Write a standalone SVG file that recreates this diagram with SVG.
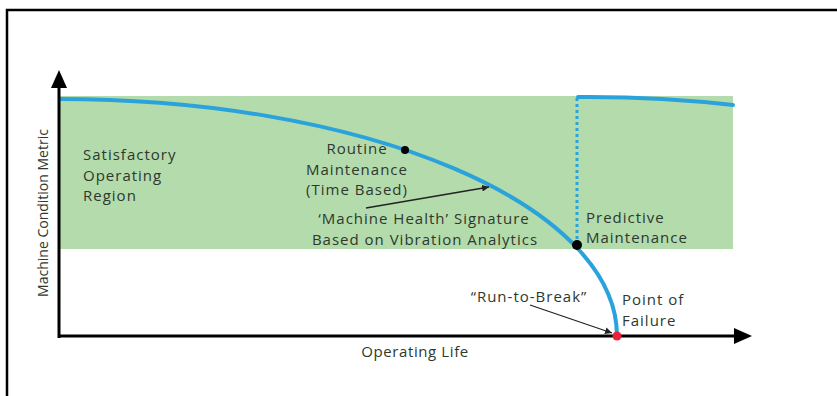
<svg xmlns="http://www.w3.org/2000/svg" width="837" height="396" viewBox="0 0 837 396">
<defs>
<style>
.t{font-family:"Open Sans","Liberation Sans",sans-serif;font-size:15px;fill:#2e382e;letter-spacing:1px}
.c{text-anchor:middle}
.blue{fill:none;stroke:#2aa3dc;stroke-width:4;stroke-linecap:round}
.ax{stroke:#000;stroke-width:3;fill:none}
.ln{stroke:#222;stroke-width:1.3;fill:none}
</style>
<marker id="ah" viewBox="0 0 10 10" refX="10" refY="5" markerWidth="7" markerHeight="7" markerUnits="userSpaceOnUse" orient="auto"><path d="M0,0 L10,5 L0,10 z" fill="#222"/></marker>
</defs>
<rect width="837" height="396" fill="#fff"/>
<path d="M7,396 V10 H837" fill="none" stroke="#000" stroke-width="2.5"/>
<g id="region"><rect x="60" y="96" width="673" height="153" fill="#b4dbab"/></g>
<g id="connectors">
<path class="blue" d="M60,99 A557,237 0 0 1 617,336"/>
<path class="blue" d="M578,97 A557,237 0 0 1 733,105"/>
<line x1="577" y1="98" x2="577" y2="242" stroke="#2aa3dc" stroke-width="3" stroke-dasharray="3 3"/>
<line class="ln" x1="366" y1="208" x2="489" y2="187" marker-end="url(#ah)"/>
<line class="ln" x1="530" y1="305" x2="612" y2="333" marker-end="url(#ah)"/>
</g>
<g id="axes">
<line class="ax" x1="59" y1="338" x2="59" y2="84"/>
<path d="M59,70 L51,88 L67,88 z" fill="#000"/>
<line class="ax" x1="58" y1="336" x2="738" y2="336"/>
<path d="M752,336 L734,328 L734,344 z" fill="#000"/>
</g>
<g id="points">
<circle cx="405" cy="150" r="4" fill="#000"/>
<circle cx="577" cy="245" r="5" fill="#000"/>
<circle cx="617" cy="336" r="4.5" fill="#e8223a"/>
</g>
<g id="labels">
<text class="t" x="83" y="160">Satisfactory</text>
<text class="t" x="83" y="180.5">Operating</text>
<text class="t" x="83" y="201">Region</text>
<text class="t c" x="357" y="154">Routine</text>
<text class="t c" x="357" y="174.5">Maintenance</text>
<text class="t c" x="357" y="195">(Time Based)</text>
<text class="t c" x="424" y="224">‘Machine Health’ Signature</text>
<text class="t c" x="425" y="245">Based on Vibration Analytics</text>
<text class="t" x="586" y="222.5">Predictive</text>
<text class="t" x="586" y="243">Maintenance</text>
<text class="t" x="622" y="305">Point of</text>
<text class="t" x="622" y="325.5">Failure</text>
<text class="t c" x="529" y="302">“Run-to-Break”</text>
<text class="t c" x="415" y="357" style="letter-spacing:0.6px">Operating Life</text>
<text class="t c" transform="translate(48,213) rotate(-90)" style="font-size:14px;letter-spacing:0">Machine Condition Metric</text>
</g>
</svg>
